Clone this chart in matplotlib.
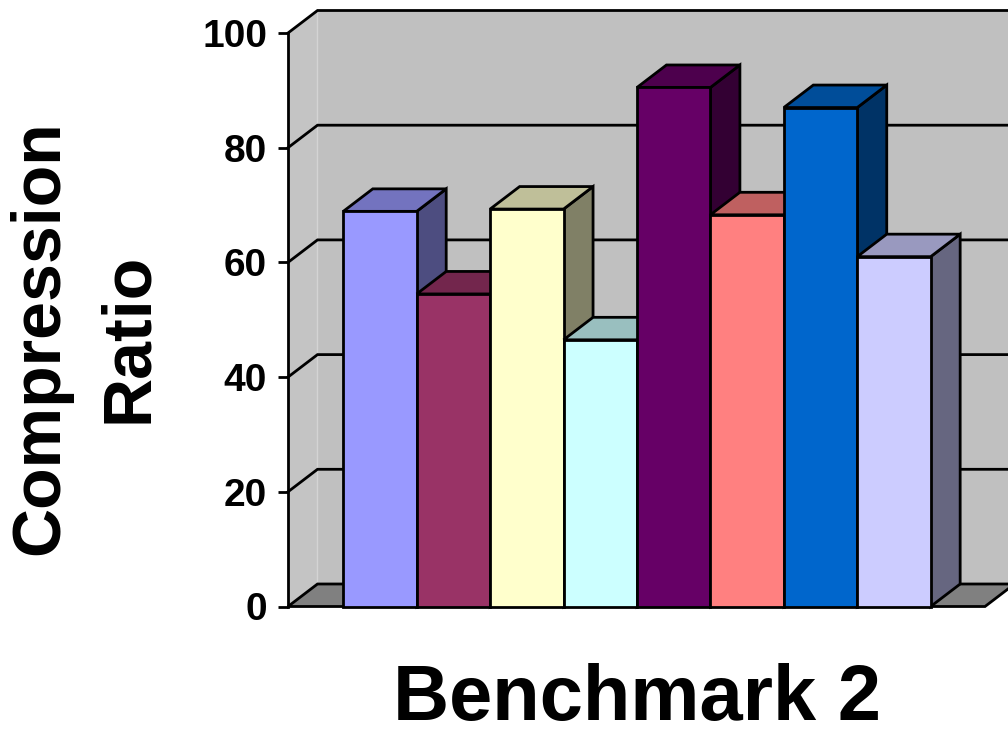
import matplotlib
matplotlib.use("Agg")
import matplotlib.pyplot as plt
from matplotlib.patches import Polygon

plt.rcParams['font.family'] = ['Liberation Sans', 'DejaVu Sans']

# values (one bar per configuration)
values = [68.9, 54.5, 69.3, 46.5, 90.5, 68.3, 87.0, 61.0]
front_colors = ['#9999FF', '#993366', '#FFFFCC', '#CCFFFF',
                '#660066', '#FF8080', '#0066CC', '#CCCCFF']
yticks = [0, 20, 40, 60, 80, 100]
title = 'Benchmark 2'
ylabel = 'Compression\nRatio'


def shade(hexcol, f):
    r, g, b = matplotlib.colors.to_rgb(hexcol)
    return (r * f, g * f, b * f)


fig = plt.figure(figsize=(10.08, 7.29), dpi=100)
W, H = 1008, 729
# front plane of the 3d box in pixels
x0_px, x1_px, y0_px, y1_px = 288, 985, 606.5, 33
ax = fig.add_axes([x0_px / W, 1 - y0_px / H, (x1_px - x0_px) / W, (y0_px - y1_px) / H])
xl, xr = -1.253, 8.24
ax.set_xlim(xl, xr)
ax.set_ylim(0, 100)

# depth offset, in data units
ddx = 29.5 / ((x1_px - x0_px) / (xr - xl))
ddy = 22.5 / ((y0_px - y1_px) / 100)

wall = '#C0C0C0'
lw = 2.0
# back wall, side wall, floor
ax.add_patch(Polygon([(xl + ddx, ddy), (xr + ddx, ddy), (xr + ddx, 100 + ddy), (xl + ddx, 100 + ddy)],
                     closed=True, facecolor=wall, edgecolor='none', zorder=0, clip_on=False))
ax.add_patch(Polygon([(xl, 0), (xl + ddx, ddy), (xl + ddx, 100 + ddy), (xl, 100)],
                     closed=True, facecolor='#C4C4C4', edgecolor='none', zorder=0, clip_on=False))
ax.plot([xl + ddx, xl + ddx], [ddy, 100 + ddy], color='#D4D4D4', lw=1, zorder=0.5, clip_on=False)
for v in yticks[1:]:
    ax.plot([xl, xl + ddx, xr + ddx + 1], [v, v + ddy, v + ddy], color='black', lw=lw,
            zorder=1, clip_on=False, solid_joinstyle='miter')
ax.add_patch(Polygon([(xl, 0), (xr, 0), (xr + ddx, ddy), (xl + ddx, ddy)],
                     closed=True, facecolor='#808080', edgecolor='black', lw=lw, zorder=2,
                     clip_on=False, joinstyle='miter'))

# bars, left to right so each one hides the side of the previous
x = list(range(len(values)))
for i, (xi, v, c) in enumerate(zip(x, values, front_colors)):
    z = 10 + 3 * i
    left, right = xi - 0.5, xi + 0.5
    ax.add_patch(Polygon([(right, 0), (right + ddx, ddy), (right + ddx, v + ddy), (right, v)],
                         closed=True, facecolor=shade(c, 0.5), edgecolor='black', lw=lw,
                         zorder=z, clip_on=False, joinstyle='miter'))
    ax.add_patch(Polygon([(left, v), (right, v), (right + ddx, v + ddy), (left + ddx, v + ddy)],
                         closed=True, facecolor=shade(c, 0.75), edgecolor='black', lw=lw,
                         zorder=z + 1, clip_on=False, joinstyle='miter'))
    ax.bar(xi, v, width=1.0, color=c, edgecolor='black', linewidth=lw, zorder=z + 2,
           clip_on=False, joinstyle='miter')

for s in ['top', 'right', 'bottom']:
    ax.spines[s].set_visible(False)
ax.spines['left'].set_linewidth(lw)
ax.spines['left'].set_zorder(5)
ax.set_xticks([])
ax.set_yticks(yticks)
ax.set_yticklabels([str(t) for t in yticks])
ax.tick_params(axis='y', length=7, width=lw, pad=8, labelsize=28, direction='out')
for lbl in ax.get_yticklabels():
    lbl.set_fontweight('bold')
ax.patch.set_visible(False)

fig.text(637 / W, 1 - 720 / H, title, ha='center', va='baseline',
         fontsize=56, fontweight='bold')
fig.text(85 / W, 1 - 338 / H, ylabel, ha='center', va='center', rotation=90,
         multialignment='center', fontsize=49, fontweight='bold', linespacing=1.5)

fig.savefig('out.png', dpi=100)
